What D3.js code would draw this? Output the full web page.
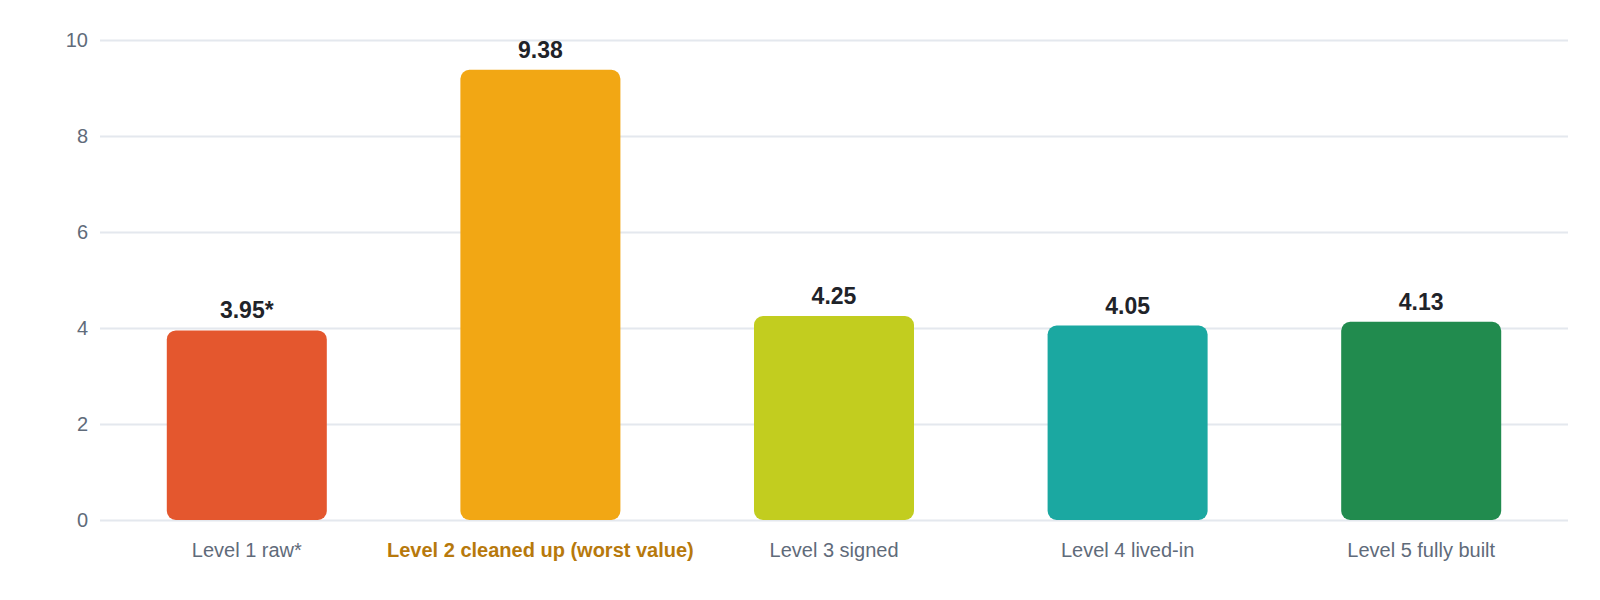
<!DOCTYPE html>
<html>
<head>
<meta charset="utf-8">
<script src="https://cdn.jsdelivr.net/npm/d3@7"></script>
<style>
  body { margin: 0; background: #fff; }
  svg { font-family: "Liberation Sans", Arial, sans-serif; display: block; }
</style>
</head>
<body>
<div id="chart-area"></div>
<script>
// chart data
const levels = ['Level 1 raw*', 'Level 2 cleaned up (worst value)', 'Level 3 signed', 'Level 4 lived-in', 'Level 5 fully built'];
const scores = [3.95, 9.38, 4.25, 4.05, 4.13];
const valueLabels = ['3.95*', '9.38', '4.25', '4.05', '4.13'];
const barColors = ['#E4572E', '#F2A714', '#C2CD1F', '#1BA8A1', '#218B4E'];
const yTicks = [0, 2, 4, 6, 8, 10];
const worstLevel = 'Level 2 cleaned up (worst value)';

const margins = { left: 100, right: 32, top: 40, bottom: 80 };
const width = 1600 - margins.left - margins.right;
const height = 600 - margins.top - margins.bottom;

const svg = d3.select('#chart-area')
  .append('svg')
  .attr('width', 1600)
  .attr('height', 600);

const g = svg.append('g')
  .attr('transform', 'translate(' + margins.left + ', ' + margins.top + ')');

const x = d3.scaleBand()
  .domain(levels)
  .range([0, width])
  .paddingInner(0.455)
  .paddingOuter(0.2275);

const y = d3.scaleLinear()
  .domain([0, 10])
  .range([height, 0]);

// grid lines + y labels
const yAxis = d3.axisLeft(y)
  .tickValues(yTicks)
  .tickSize(-width)
  .tickPadding(12);

const yG = g.append('g')
  .attr('class', 'y axis')
  .call(yAxis);
yG.select('.domain').remove();
yG.selectAll('line')
  .attr('stroke', '#e4e8ee')
  .attr('stroke-width', 2);
yG.selectAll('text')
  .attr('fill', '#5f6b7a')
  .attr('font-size', '20px');

// bars
const data = levels.map((level, i) => {
  return { level: level, score: scores[i], label: valueLabels[i], color: barColors[i] };
});

g.selectAll('rect.bar')
  .data(data)
  .enter()
  .append('rect')
  .attr('class', 'bar')
  .attr('x', (d) => x(d.level))
  .attr('y', (d) => y(d.score))
  .attr('width', x.bandwidth())
  .attr('height', (d) => height - y(d.score))
  .attr('rx', 9)
  .attr('ry', 9)
  .attr('fill', (d) => d.color);

// value labels
g.selectAll('text.value')
  .data(data)
  .enter()
  .append('text')
  .attr('class', 'value')
  .attr('x', (d) => x(d.level) + x.bandwidth() / 2)
  .attr('y', (d) => y(d.score) - 12)
  .attr('text-anchor', 'middle')
  .attr('font-size', '23px')
  .attr('font-weight', 'bold')
  .attr('fill', '#1f2329')
  .text((d) => d.label);

// x labels
const xAxis = d3.axisBottom(x).tickSize(0).tickPadding(23);
const xG = g.append('g')
  .attr('class', 'x axis')
  .attr('transform', 'translate(0, ' + height + ')')
  .call(xAxis);
xG.select('.domain').remove();
xG.selectAll('text')
  .attr('font-size', '20px')
  .attr('fill', (d) => d === worstLevel ? '#B7790C' : '#5f6b7a')
  .attr('font-weight', (d) => d === worstLevel ? 'bold' : 'normal');
</script>
</body>
</html>
